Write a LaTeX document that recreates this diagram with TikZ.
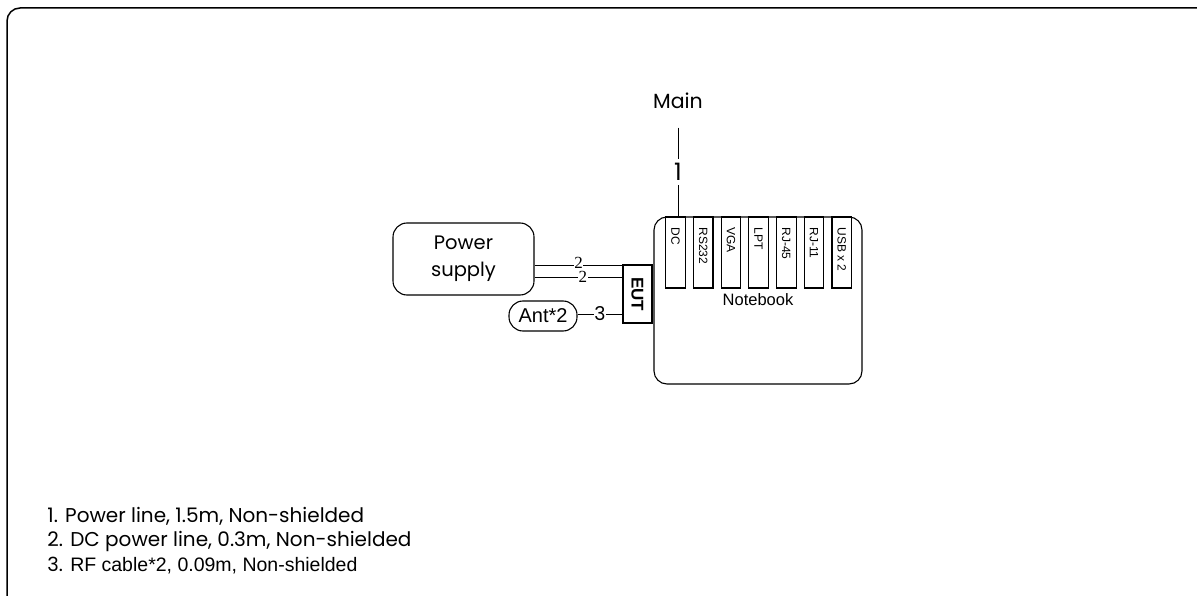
\documentclass[tikz,border=0pt]{standalone}
\usepackage{fontspec}
\setmainfont{Liberation Sans}
\newfontfamily\gothic{Poppins}
\newfontfamily\serifnum{Liberation Serif}
\usepackage{tikz}
\usetikzlibrary{positioning,calc}

\begin{document}
\begin{tikzpicture}[x=1pt, y=-1pt, line width=0.9pt,
    boxed/.style={draw, line width=1.1pt, inner sep=0pt},
    portbox/.style={boxed, minimum width=19.5pt, minimum height=71pt},
    portlabel/.style={font=\fontsize{12}{12}\selectfont, rotate=-90, anchor=west, inner sep=0pt},
    cablenum/.style={fill=white, inner sep=0.6pt}]
        \useasboundingbox (0,0) rectangle (1197,596);

        % Outer frame
        \draw[line width=1.5pt, rounded corners=13pt] (1205,8) -| (7,605);

        % Mains
        \node[font=\gothic\fontsize{20.5}{20.5}\selectfont] (main) at (678,101) {Main};
        \node[font=\gothic\fontsize{24}{24}\selectfont, inner sep=0pt] (n1) at (678,172) {1};

        % Notebook
        \node[boxed, rounded corners=13pt, minimum width=208pt, minimum height=167pt] (nb) at (758,300.5) {};
        \node[font=\fontsize{16.5}{16.5}\selectfont] (nblabel) at (758,300) {Notebook};

        % Ports
        \foreach \port [count=\i from 0] in {DC,RS232,VGA,LPT,RJ-45,RJ-11,USB x 2} {
            \node[portbox] (p\i) at (675.5+27.7*\i,252.5) {};
            \node[portlabel] at (675.5+27.7*\i,227) {\port};
        }

        % EUT
        \node[boxed, fill=white, minimum width=29pt, minimum height=58pt] (eut) at (637.5,294) {};
        \node[font=\bfseries\fontsize{17}{17}\selectfont, rotate=-90] (eutlabel) at (eut) {EUT};

        % Power supply
        \node[boxed, rounded corners=14pt, minimum width=141pt, minimum height=72pt, align=center,
              font=\gothic\fontsize{19.5}{27}\selectfont] (ps) at (463.5,259) {Power\\supply};

        % Antenna
        \node[boxed, rounded corners=14pt, minimum width=68pt, minimum height=30pt,
              font=\fontsize{20}{20}\selectfont] (ant) at (543,316) {Ant*2};

        % Cables
        \draw ([yshift=-15pt]main.south) -- ([yshift=4pt]n1.north);
        \draw ([yshift=-4pt]n1.south) -- (n1.south |- p0.north);
        \draw ([yshift=-6.7pt]ps.east) -- ([yshift=-6.7pt]ps.east -| eut.west)
            node[cablenum, pos=0.5, yshift=3pt, font=\serifnum\fontsize{17}{17}\selectfont] {2};
        \draw ([yshift=-18pt]ps.east) -- ([yshift=-18pt]ps.east -| eut.west)
            node[cablenum, pos=0.55, font=\serifnum\fontsize{17}{17}\selectfont] {2};
        \draw ([yshift=2pt]ant.east) -- ([yshift=2pt]ant.east -| eut.west)
            node[cablenum, pos=0.5, font=\gothic\fontsize{19}{19}\selectfont] {3};

        % Legend
        \node[anchor=west, inner sep=0pt, font=\gothic\fontsize{20}{20}\selectfont] (l1) at (47,516) {1. Power line, 1.5m, Non-shielded};
        \node[anchor=west, inner sep=0pt, font=\gothic\fontsize{20}{20}\selectfont] (l2) at (47,541) {2. DC power line, 0.3m, Non-shielded};
        \node[anchor=west, inner sep=0pt, font=\fontsize{19.5}{19.5}\selectfont] (l3) at (47,566) {{\gothic 3.} RF cable*2, 0.09m, Non-shielded};
\end{tikzpicture}
\end{document}
